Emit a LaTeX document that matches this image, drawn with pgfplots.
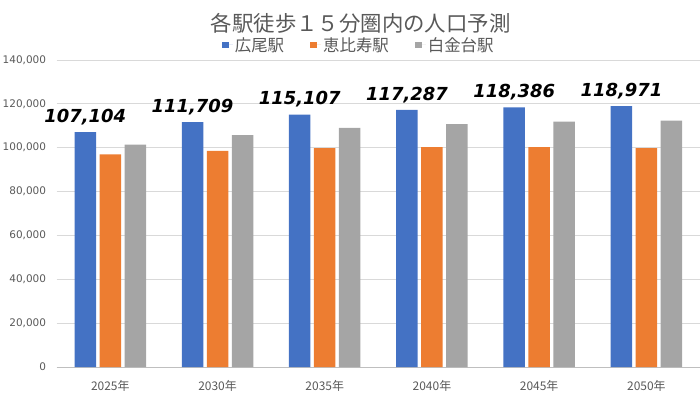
\documentclass[border=0pt]{standalone}
\usepackage{pgfplots}
\pgfplotsset{compat=1.18}
\usepackage{fontspec}
\setmainfont{Noto Sans CJK JP}
\newfontfamily\dejavu{DejaVu Sans}
\definecolor{cblue}{HTML}{4472C4}
\definecolor{corange}{HTML}{ED7D31}
\definecolor{cgray}{HTML}{A5A5A5}
\definecolor{txtgray}{HTML}{595959}
\definecolor{gridgray}{HTML}{D9D9D9}
\definecolor{axisgray}{HTML}{BFBFBF}
\pgfplotsset{sqleg/.style={legend image code/.code={\fill[##1] (0bp,-3.35bp) rectangle (6.7bp,3.35bp);\path (0bp,0bp) -- (11bp,0bp);}}}
\begin{document}
\begin{tikzpicture}
\begin{axis}[
  at={(0,0)}, anchor=south west,
  scale only axis, width=643.3bp, height=307bp,
  xmin=-0.5, xmax=5.5, ymin=0, ymax=140000,
  ybar=3.5bp, bar width=21.5bp,
  axis lines*=left,
  y axis line style={draw=none},
  x axis line style={draw=axisgray, line width=0.8pt},
  ymajorgrids, major grid style={draw=gridgray, line width=0.8pt},
  ytick={0,20000,...,140000},
  xtick={0,...,5},
  xticklabels={2025年,2030年,2035年,2040年,2045年,2050年},
  tick style={draw=none},
  scaled y ticks=false,
  /pgf/number format/fixed,
  /pgf/number format/precision=0,
  /pgf/number format/1000 sep={,},
  /pgf/number format/assume math mode=true,
  yticklabel style={font=\dejavu\fontsize{10.5}{12}\selectfont, text=txtgray, inner sep=0pt, anchor=east, xshift=-10.5bp},
  xticklabel style={font=\fontsize{12}{14}\selectfont, text=txtgray, inner sep=0pt, anchor=north, yshift=-9bp},
  legend style={at={(0.4695,1.049)}, anchor=center, draw=none, fill=none,
    font=\fontsize{16.5}{18}\selectfont, text=txtgray,
    /tikz/every even column/.append style={column sep=24bp}},
  legend columns=3,
  clip=false,
]
\addplot[fill=cblue, draw=none, sqleg,
  nodes near coords,
  every node near coord/.append style={font=\dejavu\bfseries\itshape\fontsize{18}{21}\selectfont, text=black, anchor=south, inner sep=0pt, yshift=7bp}]
  coordinates {(0,107104) (1,111709) (2,115107) (3,117287) (4,118386) (5,118971)};
\addlegendentry{広尾駅}
\addplot[fill=corange, draw=none, sqleg]
  coordinates {(0,97000) (1,98600) (2,99800) (3,100300) (4,100300) (5,99800)};
\addlegendentry{恵比寿駅}
\addplot[fill=cgray, draw=none, sqleg]
  coordinates {(0,101400) (1,105700) (2,109100) (3,110800) (4,111900) (5,112400)};
\addlegendentry{白金台駅}
\end{axis}
\node[font=\fontsize{21.5}{24}\selectfont, text=txtgray] at (304bp,344bp) {各駅徒歩１５分圏内の人口予測};
\pgfresetboundingbox
\useasboundingbox (-56.7bp,-27bp) rectangle (643.3bp,367bp);
\end{tikzpicture}
\end{document}
